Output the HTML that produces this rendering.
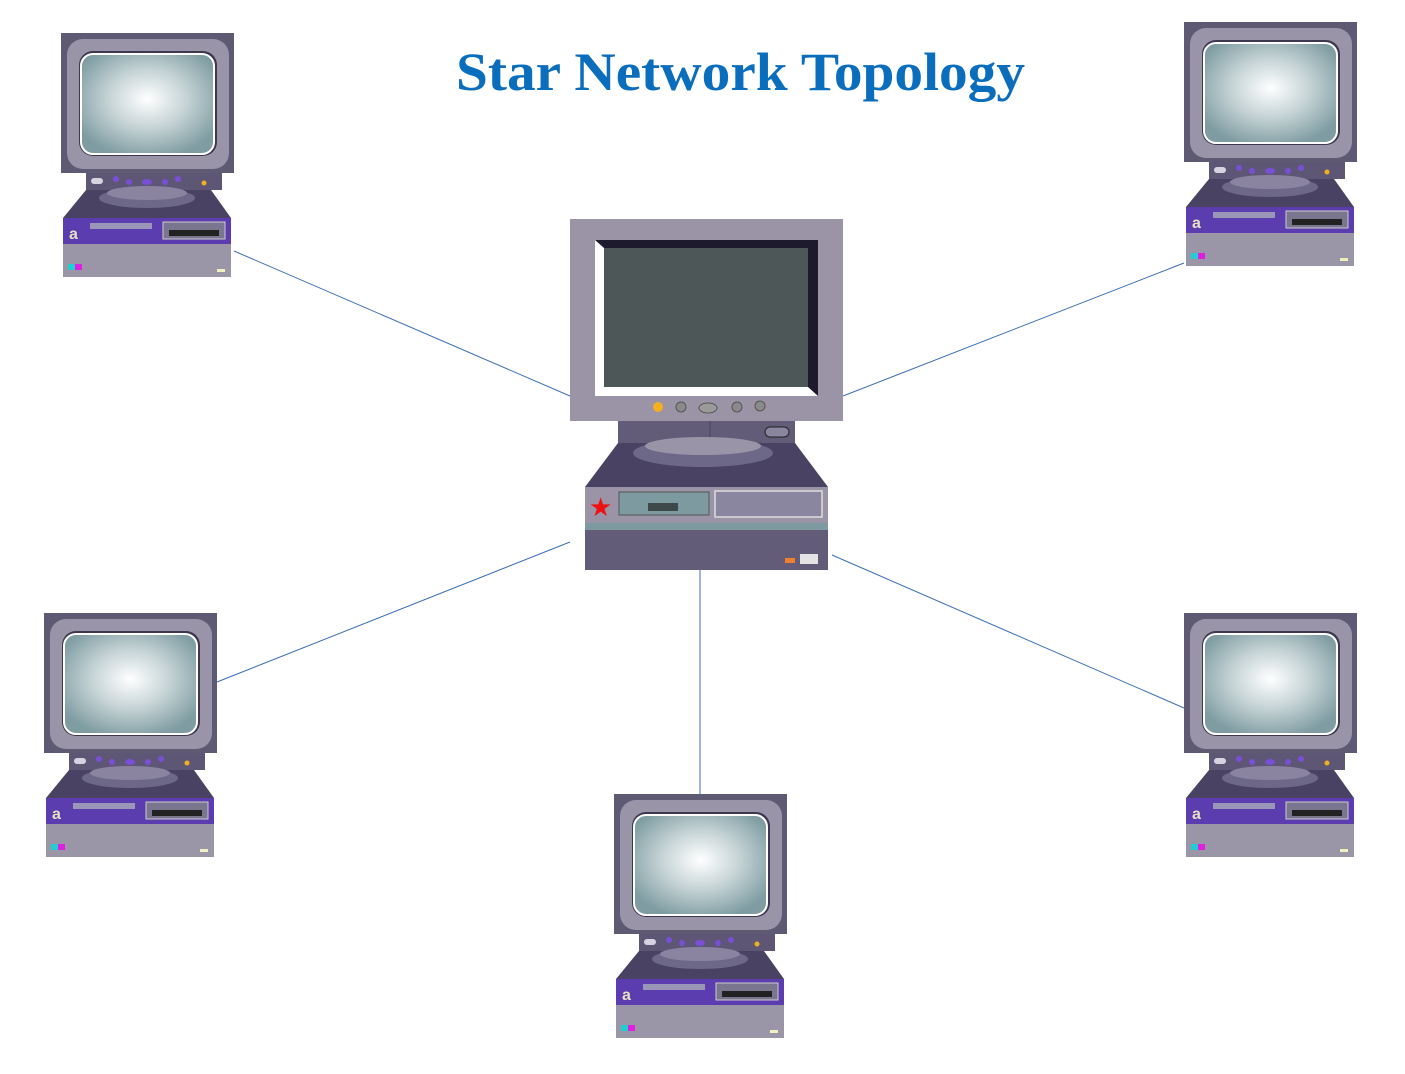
<!DOCTYPE html>
<html><head><meta charset="utf-8"><style>
html,body{margin:0;padding:0;background:#fff;}
svg{display:block;}
</style></head><body>
<svg width="1405" height="1074" viewBox="0 0 1405 1074" xmlns="http://www.w3.org/2000/svg">
<defs>
<radialGradient id="scr" cx="0.5" cy="0.45" r="0.6">
<stop offset="0" stop-color="#ffffff"/><stop offset="0.5" stop-color="#c4d2d4"/><stop offset="1" stop-color="#7e9ca2"/>
</radialGradient>
<g id="pc">
<rect x="0" y="0" width="173" height="140" fill="#5f5a74"/>
<rect x="6" y="6" width="162" height="130" rx="16" fill="#9a94a8"/>
<rect x="18" y="18" width="138" height="105" rx="14" fill="#3d3850"/>
<rect x="20" y="21" width="133" height="100" rx="12" fill="url(#scr)" stroke="#fff" stroke-width="2"/>
<rect x="25" y="140" width="136" height="17" fill="#5d5775"/>
<rect x="30" y="145" width="12" height="6" rx="3" fill="#d6d4e0"/>
<circle cx="55" cy="146" r="3" fill="#7a4fd8"/><circle cx="68" cy="149" r="3" fill="#7a4fd8"/>
<ellipse cx="86" cy="149" rx="5" ry="3" fill="#7a4fd8"/><circle cx="104" cy="149" r="3" fill="#7a4fd8"/><circle cx="117" cy="146" r="3" fill="#7a4fd8"/>
<circle cx="143" cy="150" r="2.5" fill="#f0b020"/>
<polygon points="25,157 150,157 170,185 2,185" fill="#4a4263"/>
<ellipse cx="86" cy="165" rx="48" ry="10" fill="#6e6888"/>
<ellipse cx="86" cy="160" rx="40" ry="7" fill="#8a84a0"/>
<rect x="2" y="185" width="168" height="26" fill="#5b3db0"/>
<text x="8" y="206" font-family="Liberation Sans, sans-serif" font-weight="bold" font-size="16" fill="#e8e0c0">a</text>
<rect x="29" y="190" width="62" height="6" fill="#9a96b8"/>
<rect x="102" y="189" width="62" height="17" fill="#7a7690" stroke="#ccc" stroke-width="1"/>
<rect x="108" y="197" width="50" height="6" fill="#222"/>
<rect x="2" y="211" width="168" height="33" fill="#9a96a8"/>
<rect x="7" y="231" width="7" height="6" fill="#20d0d0"/><rect x="14" y="231" width="7" height="6" fill="#e020e0"/>
<rect x="156" y="236" width="8" height="3" fill="#f0f0c0"/>
</g>
</defs>
<g stroke="#3b6fb5" stroke-width="1" fill="none">
<line x1="234" y1="251" x2="570" y2="396"/>
<line x1="1184" y1="263" x2="843" y2="396"/>
<line x1="217" y1="682" x2="570" y2="542"/>
<line x1="700" y1="570" x2="700" y2="794"/>
<line x1="832" y1="555" x2="1184" y2="708"/>
</g>
<text x="456" y="90" textLength="569" lengthAdjust="spacingAndGlyphs" font-family="Liberation Serif, serif" font-weight="bold" font-size="54" fill="#0a6ebd">Star Network Topology</text>
<use href="#pc" x="61" y="33"/>
<use href="#pc" x="1184" y="22"/>
<use href="#pc" x="44" y="613"/>
<use href="#pc" x="614" y="794"/>
<use href="#pc" x="1184" y="613"/>
<!-- server -->
<rect x="570" y="219" width="273" height="202" fill="#9a94a6"/>
<polygon points="595,240 818,240 818,396 595,396" fill="#1e1a2e"/>
<polygon points="595,240 604,248 604,387 808,387 818,396 595,396" fill="#ffffff"/>
<rect x="604" y="248" width="204" height="139" fill="#4d5757"/>
<circle cx="658" cy="407" r="5" fill="#f4b020"/>
<circle cx="681" cy="407" r="5" fill="#8a8a8a" stroke="#555"/>
<ellipse cx="708" cy="408" rx="9" ry="5" fill="#9a9a9a" stroke="#555"/>
<circle cx="737" cy="407" r="5" fill="#8a8a8a" stroke="#555"/>
<circle cx="760" cy="406" r="5" fill="#8a8a8a" stroke="#555"/>
<rect x="618" y="421" width="177" height="22" fill="#625c78"/>
<line x1="710" y1="421" x2="710" y2="443" stroke="#4a4460"/>
<rect x="765" y="427" width="24" height="10" rx="5" fill="#8a86a0" stroke="#222"/>
<polygon points="618,443 795,443 828,487 585,487" fill="#4a4263"/>
<ellipse cx="703" cy="453" rx="70" ry="14" fill="#6e6888"/>
<ellipse cx="703" cy="446" rx="58" ry="9" fill="#9a94a8"/>
<rect x="585" y="487" width="243" height="36" fill="#9a94a6"/>
<text x="589" y="516" font-family="DejaVu Sans, sans-serif" font-size="26" fill="#ee1111">★</text>
<rect x="619" y="492" width="90" height="23" fill="#7d9aa0" stroke="#555"/>
<rect x="648" y="503" width="30" height="8" fill="#3d4848"/>
<rect x="715" y="491" width="107" height="26" fill="#8a86a0" stroke="#ddd" stroke-width="1.5"/>
<rect x="585" y="523" width="243" height="7" fill="#7d9aa0"/>
<rect x="585" y="530" width="243" height="40" fill="#625c78"/>
<rect x="785" y="558" width="10" height="5" fill="#f08030"/>
<rect x="800" y="554" width="18" height="10" fill="#e4e4e4"/>
</svg>
</body></html>
